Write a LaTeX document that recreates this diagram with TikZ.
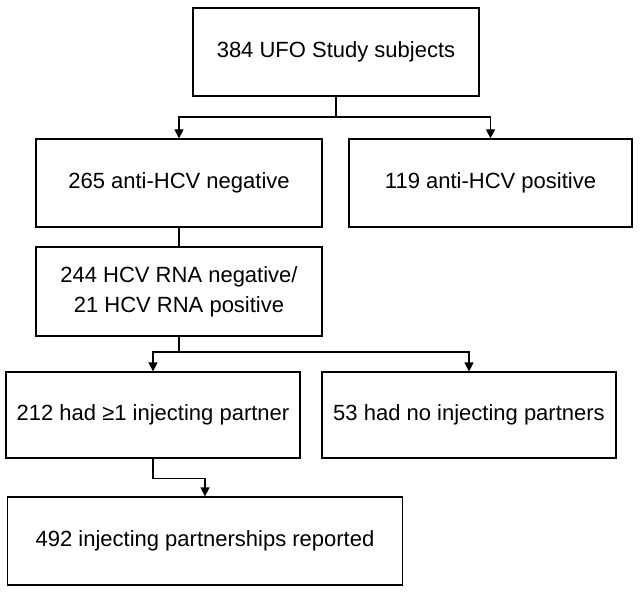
\documentclass[tikz,border=0pt]{standalone}
\usepackage{fontspec}
\setmainfont{Liberation Sans}
\usetikzlibrary{arrows.meta}

\begin{document}
\begin{tikzpicture}[x=1pt, y=-1pt,
	box/.style={draw, line width=1.2pt, inner sep=0pt, align=center,
		font=\fontsize{22}{30}\selectfont},
	arr/.style={-{Triangle[width=9pt,length=9pt]}, line width=1.2pt}]
	%%%%% START %%%%%
	
	\useasboundingbox[fill=white] (0,0) rectangle (642,593);
	
	\node[box, minimum width=286pt, minimum height=88pt] (subjects) at (336,52) {384 UFO Study subjects};
	
	\node[box, minimum width=286pt, minimum height=88pt] (negative) at (179,183) {265 anti-HCV negative};
	\node[box, minimum width=283pt, minimum height=88pt] (positive) at (490.5,183) {119 anti-HCV positive};
	
	\node[box, minimum width=286pt, minimum height=89pt] (rna) at (179,291.5) {244 HCV RNA negative/\\21 HCV RNA positive};
	
	\node[box, minimum width=294pt, minimum height=86pt] (partner) at (153,415) {212 had ≥1 injecting partner};
	\node[box, minimum width=294pt, minimum height=86pt] (nopartner) at (469,415) {53 had no injecting partners};
	
	\node[box, minimum width=395pt, minimum height=88pt] (reported) at (205,541) {492 injecting partnerships reported};
	
	\coordinate (fork1) at (336,117);
	\coordinate (fork2) at (179,352);
	
	\draw[line width=1.2pt] (subjects.south) -- (fork1);
	\draw[arr] (fork1) -| (negative.north);
	\draw[arr] (fork1) -| (positive.north);
	
	\draw[line width=1.2pt] (negative.south) -- (rna.north);
	
	\draw[line width=1.2pt] (rna.south) -- (fork2);
	\draw[arr] (fork2) -| (partner.north);
	\draw[arr] (fork2) -| (nopartner.north);
	
	\draw[arr] (partner.south) -- ++(0,20) -| (reported.north);
	
	%%%%% END %%%%%
\end{tikzpicture}
\end{document}
